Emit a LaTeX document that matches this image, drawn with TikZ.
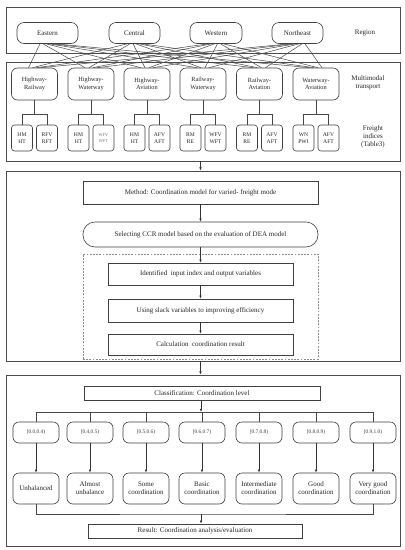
\documentclass[tikz,border=0pt]{standalone}
\usepackage{fontspec}
\setmainfont{Liberation Serif}
\usetikzlibrary{arrows.meta,calc}
\begin{document}
\begin{tikzpicture}[x=1pt,y=-1pt,
  frame/.style={draw=black!70, line width=0.8pt, inner sep=0pt},
  rbox/.style={draw=black!75, line width=0.6pt, rounded corners=6pt, align=center, inner sep=0pt, text=black!85},
  sbox/.style={draw=black!75, line width=0.6pt, align=center, inner sep=0pt, text=black!85},
  fmain/.style={font=\fontsize{7}{8}\selectfont},
  fmode/.style={font=\fontsize{6.3}{7.6}\selectfont},
  fsmall/.style={font=\fontsize{5.6}{6.6}\selectfont},
  fsmaller/.style={font=\fontsize{4.3}{6.2}\selectfont, text=black!55},
  flevel/.style={font=\fontsize{5.4}{6.5}\selectfont, text=black!75},
  regionbox/.style={rbox, fmain, minimum height=21pt, rounded corners=7pt},
  modebox/.style={rbox, fmode, minimum width=46pt, minimum height=32pt},
  idxbox/.style={rbox, fsmall, minimum width=21pt, minimum height=26pt, rounded corners=3pt},
  levelbox/.style={rbox, flevel, minimum width=46pt, minimum height=21pt},
  classbox/.style={rbox, fmain, minimum width=46pt, minimum height=31pt},
  link/.style={draw=black!72, line width=0.5pt},
  arr/.style={draw=black!80, line width=0.6pt, -{Latex[length=3.2pt,width=2.6pt]}},
  lbl/.style={align=center, fmain, text=black!85}
]
\useasboundingbox (0,0) rectangle (405,550);
\fill[white] (0,0) rectangle (405,550);

% frames
\node[frame, minimum width=394pt, minimum height=46pt] (f1) at (203,30) {};
\node[frame, minimum width=394pt, minimum height=99pt] (f2) at (203,111.5) {};
\node[frame, minimum width=394pt, minimum height=190pt] (f3) at (203,266) {};
\node[frame, minimum width=394pt, minimum height=171pt] (f4) at (203,460.5) {};

% regions
\node[regionbox, minimum width=61pt] (r1) at (47.5,33) {Eastern};
\node[regionbox, minimum width=51pt] (r2) at (134.5,33) {Central};
\node[regionbox, minimum width=52pt] (r3) at (216,33) {Western};
\node[regionbox, minimum width=51pt] (r4) at (297.5,33) {Northeast};
\node[lbl] (lreg) at (365,33) {Region};

% modes
\node[modebox] (m1) at (34.5,84) {Highway-\\Railway};
\node[modebox] (m2) at (91,84) {Highway-\\Waterway};
\node[modebox] (m3) at (147,84) {Highway-\\Aviation};
\node[modebox] (m4) at (203,84) {Railway-\\Waterway};
\node[modebox] (m5) at (259.5,84) {Railway-\\Aviation};
\node[modebox] (m6) at (316,84) {Waterway-\\Aviation};
\node[lbl] (lmode) at (368,83) {Multimodal\\transport};

% region-mode links
\foreach \r [count=\i] in {r1,r2,r3,r4}{
  \foreach \m [count=\j] in {m1,m2,m3,m4,m5,m6}{
    \draw[link] ($(\r.south)+({(\j-3.5)*3},0)$) -- ($(\m.north)+({(\i-2.5)*4},0)$);
  }
}

% freight indices
\node[idxbox] (s1a) at (22,138) {HM\\HT};
\node[idxbox] (s1b) at (47,138) {RFV\\RFT};
\node[idxbox] (s2a) at (78.5,138) {HM\\HT};
\node[idxbox, fsmaller] (s2b) at (103.5,138) {WFV\\WFT};
\node[idxbox] (s3a) at (134.5,138) {HM\\HT};
\node[idxbox] (s3b) at (159.5,138) {AFV\\AFT};
\node[idxbox] (s4a) at (190.5,138) {RM\\RE};
\node[idxbox] (s4b) at (215.5,138) {WFV\\WFT};
\node[idxbox] (s5a) at (247,138) {RM\\RE};
\node[idxbox] (s5b) at (272,138) {AFV\\AFT};
\node[idxbox] (s6a) at (303.5,138) {WN\\PWI};
\node[idxbox] (s6b) at (328.5,138) {AFV\\AFT};
\node[lbl] (lidx) at (373,137) {Freight\\indices\\(Table3)};

\foreach \k in {1,...,6}{
  \draw[link] (s\k a.north) -- ++(0,-10) -| (m\k.south);
  \draw[link] (s\k b.north) -- ++(0,-10) -| (m\k.south);
}

% method block
\node[sbox, fmain, minimum width=235pt, minimum height=23pt] (meth) at (200.5,192.5) {Method: Coordination model for varied- freight mode};
\node[rbox, fmain, minimum width=235pt, minimum height=25pt, rounded corners=12pt] (sel) at (200.5,234.5) {Selecting CCR model based on the evaluation of DEA model};
\node[draw=black!45, dash pattern=on 1.8pt off 1.4pt, line width=0.5pt, minimum width=235pt, minimum height=105pt, inner sep=0pt] (dash) at (200.5,306.5) {};
\node[sbox, fmain, minimum width=185pt, minimum height=22pt] (iden) at (200.5,274) {Identified\ \ input index and output variables};
\node[sbox, fmain, minimum width=185pt, minimum height=23pt] (slack) at (200.5,310.5) {Using slack variables to improving efficiency};
\node[sbox, fmain, minimum width=185pt, minimum height=21pt] (calc) at (200.5,344.5) {Calculation\ \ coordination result};

\draw[arr] (f2.south -| meth.north) -- (meth.north |- f3.north);
\draw[arr] (meth) -- (sel);
\draw[arr] (sel) -- (iden);
\draw[arr] (iden) -- (slack);
\draw[arr] (slack) -- (calc);
\draw[arr] (f3.south -| meth.north) -- (meth.north |- f4.north);

% classification block
\node[sbox, fmain, minimum width=236pt, minimum height=14pt] (cls) at (202,393) {Classification: Coordination level};
\coordinate (bar1) at (201,412);
\draw[arr] (cls.south -| bar1) -- (bar1);

\node[levelbox] (l1) at (36,432.5) {[0.0,0.4)};
\node[levelbox] (l2) at (90,432.5) {[0.4,0.5)};
\node[levelbox] (l3) at (146,432.5) {[0.5,0.6)};
\node[levelbox] (l4) at (202,432.5) {[0.6,0.7)};
\node[levelbox] (l5) at (259,432.5) {[0.7,0.8)};
\node[levelbox] (l6) at (316,432.5) {[0.8,0.9)};
\node[levelbox] (l7) at (373,432.5) {[0.9,1.0)};

\node[classbox] (c1) at (36,488.5) {Unbalanced};
\node[classbox] (c2) at (90,488.5) {Almost\\unbalance};
\node[classbox] (c3) at (146,488.5) {Some\\coordination};
\node[classbox] (c4) at (202,488.5) {Basic\\coordination};
\node[classbox] (c5) at (259,488.5) {Intermediate\\coordination};
\node[classbox] (c6) at (316,488.5) {Good\\coordination};
\node[classbox] (c7) at (373,488.5) {Very good\\coordination};

\draw[link] (l1.north |- bar1) -- (l7.north |- bar1);
\foreach \k in {1,...,7}{
  \draw[link] (l\k.north |- bar1) -- (l\k.north);
  \draw[arr] (l\k) -- (c\k);
}

\coordinate (bar2) at (201,514);
\draw[link] (c1.south) |- (bar2) -| (c7.south);
\node[sbox, fmain, minimum width=214pt, minimum height=14pt] (res) at (195,531) {Result: Coordination analysis/evaluation};
\draw[arr] (bar2) -- (bar2 |- res.north);
\end{tikzpicture}
\end{document}
